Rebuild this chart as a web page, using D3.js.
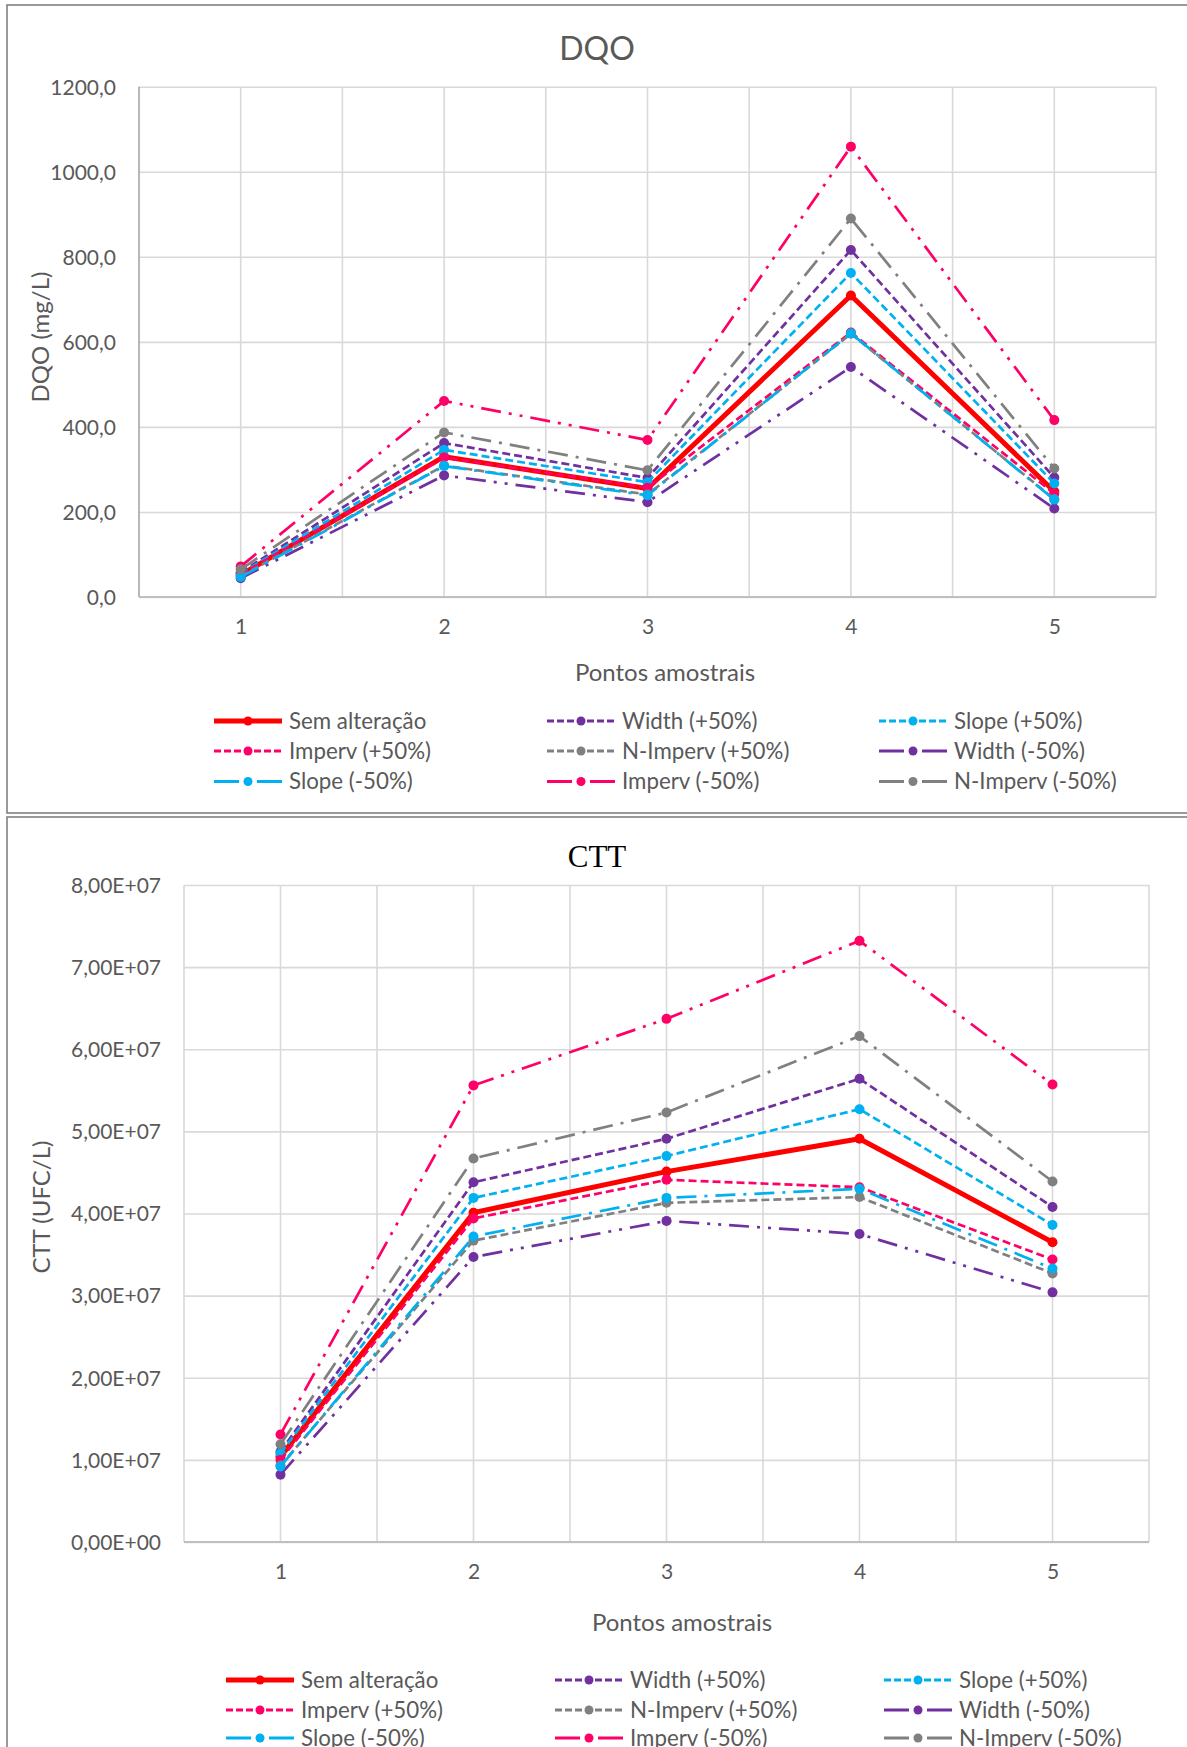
<!DOCTYPE html>
<html>
<head>
<meta charset="utf-8">
<script src="https://cdn.jsdelivr.net/npm/d3@7"></script>
<style>
  body { margin: 0; background: #fff; }
  svg { display: block; }
  text { font-family: Lato, "Noto Sans", sans-serif; fill: #595959; }
</style>
</head>
<body>
<svg id="page" width="1187" height="1747"></svg>
<script>
// categories
const points = ['1', '2', '3', '4', '5'];

const seriesNames = [
  'Sem alteração', 'Width (+50%)', 'Slope (+50%)',
  'Imperv (+50%)', 'N-Imperv (+50%)', 'Width (-50%)',
  'Slope (-50%)', 'Imperv (-50%)', 'N-Imperv (-50%)'
];

// DQO (mg/L)
const dqoSem        = [52, 330, 255, 709, 248];
const dqoWidthUp    = [58, 362, 280, 816, 281];
const dqoSlopeUp    = [55, 346, 270, 762, 267];
const dqoImpervUp   = [53, 328, 257, 622, 243];
const dqoNImpervUp  = [49, 309, 241, 619, 230];
const dqoWidthDown  = [44, 286, 223, 541, 208];
const dqoSlopeDown  = [47, 308, 239, 620, 229];
const dqoImpervDown = [72, 461, 369, 1059, 416];
const dqoNImpervDown = [65, 387, 298, 890, 302];
const dqoTicks = [0, 200, 400, 600, 800, 1000, 1200];

// CTT (UFC/L)
const cttSem        = [1.04e7, 4.01e7, 4.51e7, 4.91e7, 3.65e7];
const cttWidthUp    = [1.10e7, 4.38e7, 4.91e7, 5.64e7, 4.08e7];
const cttSlopeUp    = [1.08e7, 4.19e7, 4.70e7, 5.27e7, 3.86e7];
const cttImpervUp   = [1.00e7, 3.94e7, 4.41e7, 4.32e7, 3.44e7];
const cttNImpervUp  = [0.93e7, 3.67e7, 4.13e7, 4.20e7, 3.27e7];
const cttWidthDown  = [0.82e7, 3.47e7, 3.91e7, 3.75e7, 3.04e7];
const cttSlopeDown  = [0.92e7, 3.72e7, 4.19e7, 4.30e7, 3.33e7];
const cttImpervDown = [1.31e7, 5.56e7, 6.37e7, 7.32e7, 5.57e7];
const cttNImpervDown = [1.19e7, 4.67e7, 5.23e7, 6.16e7, 4.39e7];
const cttTicks = [0, 1e7, 2e7, 3e7, 4e7, 5e7, 6e7, 7e7, 8e7];

// styles
const colors = ['#ff0000', '#7030a0', '#00b0f0', '#ff0066', '#808080', '#7030a0', '#00b0f0', '#ff0066', '#808080'];
const shortDash = '8,4';
const dashDot = '20,8,3,8';
const dashDotDot = '20,8,3,8,3,8';
const dashes = [null, shortDash, shortDash, shortDash, shortDash, dashDotDot, dashDot, dashDotDot, dashDot];
const widths = [5, 2.7, 2.7, 2.7, 2.7, 2.7, 2.7, 2.7, 2.7];

const fmtDqo = v => d3.format('.1f')(v).replace('.', ',');
const fmtCtt = v => {
  if (v === 0) return '0,00E+00';
  const e = Math.floor(Math.log10(v));
  return (v / Math.pow(10, e)).toFixed(2).replace('.', ',') + 'E+' + String(e).padStart(2, '0');
};

const svg = d3.select('#page');
svg.append('rect').attr('width', 1187).attr('height', 1747).attr('fill', '#fff');

function drawChart(cfg) {
  const g = svg.append('g');

  g.append('rect')
    .attr('x', cfg.panel[0]).attr('y', cfg.panel[1])
    .attr('width', cfg.panel[2]).attr('height', cfg.panel[3])
    .attr('fill', '#fff').attr('stroke', '#808080').attr('stroke-width', 1.6);

  const x = d3.scalePoint().domain(points).range([cfg.left, cfg.right]).padding(0.5);
  const y = d3.scaleLinear().domain(cfg.domain).range([cfg.bottom, cfg.top]);
  const step = x.step();

  // horizontal gridlines + labels
  const yAxis = g.append('g')
    .attr('transform', `translate(${cfg.left},0)`)
    .call(d3.axisLeft(y).tickValues(cfg.ticks).tickSize(-(cfg.right - cfg.left)).tickFormat(cfg.fmt));
  yAxis.select('.domain').remove();
  yAxis.selectAll('.tick line').attr('stroke', '#d9d9d9').attr('stroke-width', 1.6);
  yAxis.selectAll('.tick text')
    .attr('x', cfg.tickRight - cfg.left).attr('dy', '0.35em')
    .style('font-size', '21px').attr('fill', '#595959');

  // vertical gridlines at categories and between them
  const vlines = [];
  points.forEach(p => { vlines.push(x(p) - step / 2); vlines.push(x(p)); });
  vlines.push(cfg.right);
  g.append('g').selectAll('line').data(vlines).join('line')
    .attr('x1', d => d).attr('x2', d => d)
    .attr('y1', cfg.top).attr('y2', cfg.bottom)
    .attr('stroke', (d, i) => i === 0 ? cfg.leftAxisColor : '#d9d9d9')
    .attr('stroke-width', 1.6);

  // category axis
  const xAxis = g.append('g')
    .attr('transform', `translate(0,${cfg.bottom})`)
    .call(d3.axisBottom(x).tickSize(0).tickPadding(cfg.xTickPad));
  xAxis.select('.domain').attr('stroke', '#bfbfbf').attr('stroke-width', 2)
    .attr('d', `M${cfg.left},0H${cfg.right}`);
  xAxis.selectAll('.tick text').style('font-size', '21px').attr('fill', '#595959');

  // titles
  g.append('text')
    .attr('x', cfg.titleX).attr('y', cfg.titleY)
    .attr('text-anchor', 'middle')
    .style('font-size', cfg.titleSize + 'px')
    .style('font-family', cfg.titleFont)
    .style('fill', cfg.titleColor)
    .text(cfg.title);

  g.append('text')
    .attr('x', cfg.xTitleX).attr('y', cfg.xTitleY)
    .attr('text-anchor', 'middle')
    .style('font-size', '24px')
    .text('Pontos amostrais');

  g.append('text')
    .attr('transform', `translate(${cfg.yTitleX},${cfg.yTitleY}) rotate(-90)`)
    .attr('text-anchor', 'middle')
    .style('font-size', '24px')
    .text(cfg.yTitle);

  // series
  const line = d3.line().x((d, i) => x(points[i])).y(d => y(d));
  cfg.series.forEach((vals, s) => {
    const sg = g.append('g');
    sg.append('path')
      .datum(vals)
      .attr('d', line)
      .attr('fill', 'none')
      .attr('stroke', colors[s])
      .attr('stroke-width', widths[s])
      .attr('stroke-dasharray', dashes[s])
      .attr('stroke-linejoin', 'round');
    sg.selectAll('circle').data(vals).join('circle')
      .attr('cx', (d, i) => x(points[i]))
      .attr('cy', d => y(d))
      .attr('r', 5)
      .attr('fill', colors[s]);
  });

  // legend
  seriesNames.forEach((name, i) => {
    const lx = cfg.legendCols[i % 3];
    const ly = cfg.legendRows[Math.floor(i / 3)];
    const lg = g.append('g');
    let dash = null;
    if (dashes[i]) dash = i < 5 ? '7,3' : '25,18,25';
    lg.append('line')
      .attr('x1', lx).attr('x2', lx + 68).attr('y1', ly).attr('y2', ly)
      .attr('stroke', colors[i]).attr('stroke-width', widths[i] + (i === 0 ? 0 : 0.5))
      .attr('stroke-dasharray', dash);
    lg.append('circle').attr('cx', lx + 34).attr('cy', ly).attr('r', 4.5).attr('fill', colors[i]);
    lg.append('text')
      .attr('x', lx + 75).attr('y', ly).attr('dy', '0.35em')
      .style('font-size', '22.3px')
      .text(name);
  });
}

drawChart({
  panel: [7, 5, 1190, 808],
  left: 139, right: 1156, top: 86.7, bottom: 597,
  domain: [0, 1200], ticks: dqoTicks, fmt: fmtDqo, tickRight: 116,
  leftAxisColor: '#a6a6a6', xTickPad: 22,
  title: 'DQO', titleX: 597, titleY: 60, titleSize: 32, titleFont: 'Lato, sans-serif', titleColor: '#595959',
  xTitleX: 665, xTitleY: 681, yTitleX: 49, yTitleY: 337, yTitle: 'DQO (mg/L)',
  series: [dqoSem, dqoWidthUp, dqoSlopeUp, dqoImpervUp, dqoNImpervUp, dqoWidthDown, dqoSlopeDown, dqoImpervDown, dqoNImpervDown],
  legendCols: [214, 547, 879], legendRows: [721, 751, 781.5]
});

drawChart({
  panel: [7, 817, 1190, 960],
  left: 184, right: 1149, top: 885, bottom: 1542,
  domain: [0, 8e7], ticks: cttTicks, fmt: fmtCtt, tickRight: 161,
  leftAxisColor: '#d9d9d9', xTickPad: 22,
  title: 'CTT', titleX: 597, titleY: 867, titleSize: 31, titleFont: '"Liberation Serif", serif', titleColor: '#000',
  xTitleX: 682, xTitleY: 1631, yTitleX: 50, yTitleY: 1207, yTitle: 'CTT (UFC/L)',
  series: [cttSem, cttWidthUp, cttSlopeUp, cttImpervUp, cttNImpervUp, cttWidthDown, cttSlopeDown, cttImpervDown, cttNImpervDown],
  legendCols: [226, 555, 884], legendRows: [1680, 1710, 1738]
});
</script>
</body>
</html>
